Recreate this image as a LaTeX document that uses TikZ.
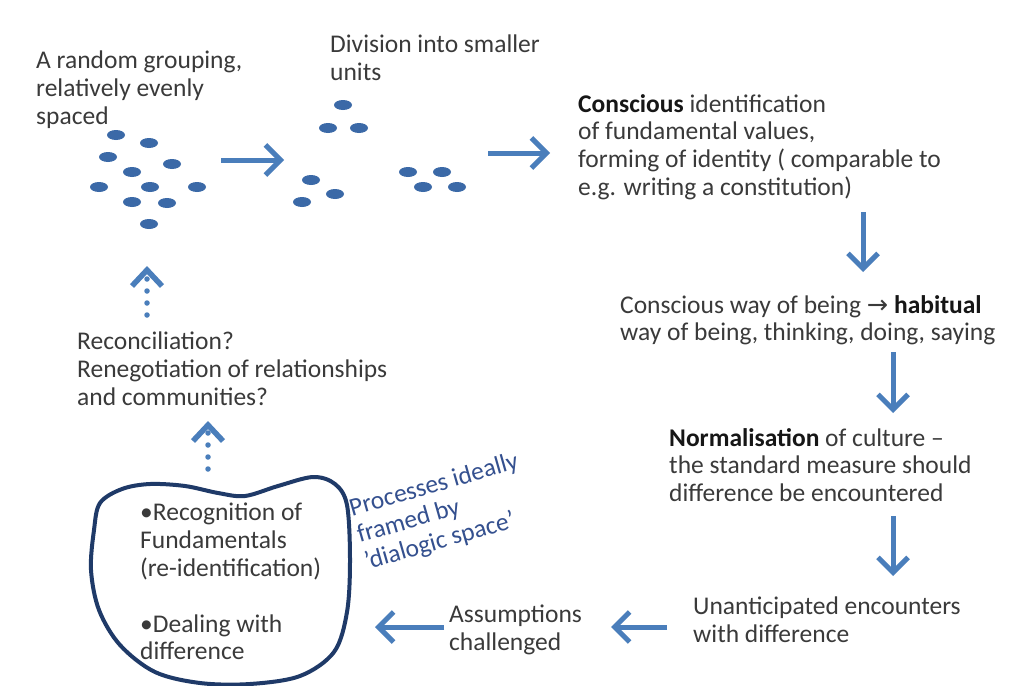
\documentclass[tikz,border=0pt]{standalone}
\usepackage{fontspec}
\setmainfont{Carlito}
\newfontfamily\symfont{DejaVu Sans}
\usetikzlibrary{arrows.meta}
\definecolor{arrowblue}{HTML}{4A7EBB}
\definecolor{dotblue}{HTML}{3B69A7}
\definecolor{blobnavy}{HTML}{1F3A68}
\definecolor{notenavy}{HTML}{34508F}
\definecolor{textgrey}{HTML}{3A3A3A}
\definecolor{boldgrey}{HTML}{161616}
\tikzset{
  txt/.style={anchor=north west, inner sep=0pt, align=left, text=textgrey,
    font=\fontsize{25.5}{27.8}\selectfont},
  dot/.style={fill=dotblue, draw=none},
  arr/.style={draw=arrowblue, line width=5pt,
    -{Straight Barb[length=15pt,width=30pt]}},
  dotarr/.style={draw=arrowblue, line width=5.5pt, line cap=round,
    dash pattern=on 0pt off 12pt,
    -{Straight Barb[length=16pt,width=30pt,line cap=butt]}},
  blob/.style={draw=blobnavy, line width=4pt},
}
\newcommand{\bw}[1]{\textbf{\color{boldgrey}#1}}
\begin{document}
\begin{tikzpicture}[x=1pt,y=-1pt]
\useasboundingbox[fill=white] (0,0) rectangle (1032,685);

% text blocks
\node[txt] (grouping) at (36,51) {A random grouping,\\relatively evenly\\spaced};
\node[txt] (division) at (330,35) {Division into smaller\\units};
\node[txt] (ident) at (578,94) {\bw{Conscious} identification\\of fundamental values,\\forming of identity ( comparable to\\e.g. writing a constitution)};
\node[txt] (habit) at (620,295) {Conscious way of being {\symfont →} \bw{habitual}\\way of being, thinking, doing, saying};
\node[txt] (norm) at (669,428) {\bw{Normalisation} of culture --\\the standard measure should\\difference be encountered};
\node[txt] (unant) at (693,597) {Unanticipated encounters\\with difference};
\node[txt] (assump) at (449,605) {Assumptions\\challenged};
\node[txt] (recon) at (77,332) {Reconciliation?\\Renegotiation of relationships\\and communities?};
\node[txt] (inner) at (140,503) {\textbullet Recognition of\\Fundamentals\\(re-identification)\\[27.8pt]\textbullet Dealing with\\difference};
\node[txt, text=notenavy, rotate=16, anchor=north west] (note) at (347,499)
  {Processes ideally\\framed by\\'dialogic space'};

% the free-form outline around the inner list
\draw[blob] plot[smooth cycle, tension=0.55] coordinates {
  (100,503) (122,489) (150,484) (185,486) (218,493) (245,496) (278,486)
  (313,477) (335,484) (347,505) (350,560) (347,612) (334,652) (300,676)
  (250,684) (200,683) (155,672) (120,645) (99,610) (91,570) (94,530)};

% initial grouping of dots
\foreach \p in {(116,135),(149,143),(108,157),(172,164),(132,172),
    (99,187),(150,187),(197,187),(132,202),(167,203),(149,224)}
  \fill[dot] \p ellipse [x radius=9, y radius=5];
% smaller units
\foreach \p in {(343,105),(328,128),(359,128),
    (311,180),(335,194),(302,202),
    (408,172),(442,172),(423,187),(457,187)}
  \fill[dot] \p ellipse [x radius=9, y radius=5];

% connector end points
\coordinate (a1s) at (221,160); \coordinate (a1e) at (284,160);
\coordinate (a2s) at (488,153); \coordinate (a2e) at (550,153);
\coordinate (d1s) at (863,212); \coordinate (d1e) at (863,272);
\coordinate (d2s) at (893,352); \coordinate (d2e) at (893,413);
\coordinate (d3s) at (893,516); \coordinate (d3e) at (893,576);
\coordinate (l1s) at (667,627); \coordinate (l1e) at (611,627);
\coordinate (l2s) at (444,627); \coordinate (l2e) at (375,627);
\coordinate (u1s) at (147,315); \coordinate (u1e) at (147,266);
\coordinate (u2s) at (208,469); \coordinate (u2e) at (208,421);

\draw[arr] (a1s) -- (a1e);
\draw[arr] (a2s) -- (a2e);
\draw[arr] (d1s) -- (d1e);
\draw[arr] (d2s) -- (d2e);
\draw[arr] (d3s) -- (d3e);
\draw[arr] (l1s) -- (l1e);
\draw[arr] (l2s) -- (l2e);
\draw[dotarr] (u1s) -- (u1e);
\draw[dotarr] (u2s) -- (u2e);
\end{tikzpicture}
\end{document}
